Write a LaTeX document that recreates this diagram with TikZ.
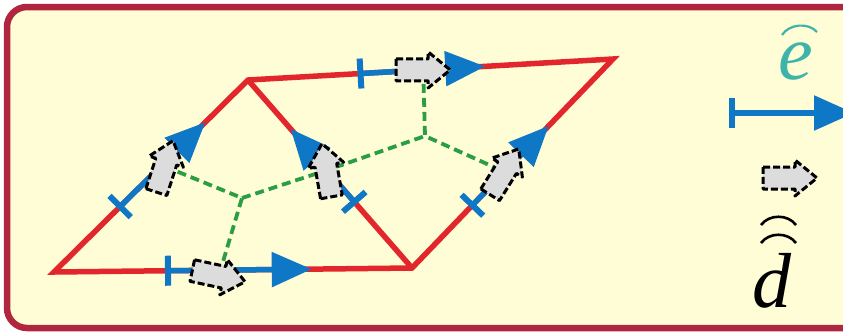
\documentclass[tikz,border=0pt]{standalone}
\usepackage{fontspec}
\setmainfont{Liberation Serif}
\usetikzlibrary{arrows.meta,calc}
\definecolor{framered}{HTML}{B0263E}
\definecolor{paper}{HTML}{FFFDD6}
\definecolor{edgered}{HTML}{E2262C}
\definecolor{vecblue}{HTML}{0F78C6}
\definecolor{dualgreen}{HTML}{2A9D45}
\definecolor{markteal}{HTML}{3DB3AA}
\definecolor{blockgray}{HTML}{DCDCDC}
\begin{document}
\begin{tikzpicture}[x=1pt,y=-1pt,
  edge/.style={edgered,line width=5.5pt,line join=miter},
  vec/.style={vecblue,line width=5.5pt,{Bar[width=30pt,line width=6pt]}-{Triangle[length=40pt,width=34pt]}},
  dual/.style={dualgreen,line width=3.8pt,dash pattern=on 9pt off 5pt},
  block/.pic={\draw[black,line width=3pt,dash pattern=on 7pt off 3pt,fill=blockgray,line join=round]
     (-27,-11) -- (5,-11) -- (5,-18) -- (27,0) -- (5,18) -- (5,11) -- (-27,11) -- cycle;},
  letter/.style={font=\fontsize{78}{78}\selectfont\itshape,anchor=base,inner sep=0pt}
]
\useasboundingbox (0,0) rectangle (843,333);
\clip (0,0) rectangle (843,333);
% panel
\draw[framered,line width=6.5pt,fill=paper,rounded corners=20pt] (7,7) rectangle (880,328);

% lattice vertices and face centres
\coordinate (A) at (54,272);
\coordinate (B) at (412,268);
\coordinate (C) at (248,80);
\coordinate (D) at (613,59);
\coordinate (P) at (242,198);
\coordinate (Q) at (425,136);

% block markers on the edges
\coordinate (gb) at ($(A)!0.46!(B)+(0,6)$);
\coordinate (gt) at ($(C)!0.48!(D)$);
\coordinate (gl) at ($(A)!0.55!(C)+(4,0)$);
\coordinate (gd) at ($(B)!0.52!(C)$);
\coordinate (gr) at ($(B)!0.46!(D)$);

% red lattice
\draw[edge] (A) -- (B) -- (D) -- (C) -- cycle;
\draw[edge] (C) -- (B);

% green dual lattice
\draw[dual] (gl) -- (P) -- (gb);
\draw[dual] (P) -- (gd) -- (Q);
\draw[dual] (gt) -- (Q) -- (gr);

% blue edge vectors
\draw[vec] ($(A)!0.31!(B)$) -- ($(A)!0.72!(B)$);
\draw[vec] ($(C)!0.30!(D)$) -- ($(C)!0.65!(D)$);
\draw[vec] ($(A)!0.33!(C)$) -- ($(A)!0.78!(C)$);
\draw[vec] ($(B)!0.34!(C)$) -- ($(B)!0.74!(C)$);
\draw[vec] ($(B)!0.29!(D)$) -- ($(B)!0.68!(D)$);

% dashed block arrows
\pic[rotate=-12] at (gb) {block};
\pic at (gt) {block};
\pic[rotate=72] at (gl) {block};
\pic[rotate=100] at (gd) {block};
\pic[rotate=58] at (gr) {block};

% key
\node[letter,text=markteal] (e) at (796,79) {e};
\draw[markteal,line width=2.2pt] (782,35) .. controls (789,24) and (808,22) .. (817,32);
\coordinate (k1) at (729,113);
\coordinate (k2) at (854,113);
\draw[vec] (k1) -- (k2);
\coordinate (kb) at (790,178);
\pic at (kb) {block};
\node[letter] (d) at (772,307) {d};
\draw[black,line width=2.6pt] (761,225) .. controls (769,214) and (788,214) .. (796,225);
\draw[black,line width=2.6pt] (761,243) .. controls (769,232) and (788,232) .. (796,243);
\end{tikzpicture}
\end{document}
